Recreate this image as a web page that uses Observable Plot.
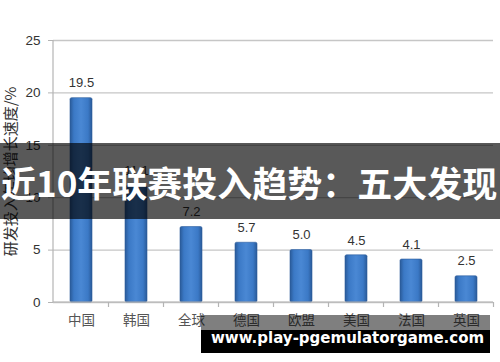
<!DOCTYPE html>
<html>
<head>
<meta charset="utf-8">
<script src="https://cdn.jsdelivr.net/npm/d3@7"></script>
<script src="https://cdn.jsdelivr.net/npm/@observablehq/plot@0.6"></script>
<style>
  body { margin: 0; background: #fff; }
  #wrap { position: relative; width: 500px; height: 362px; overflow: hidden; background: #fff; }
  #banner {
    position: absolute; left: 0; top: 143px; width: 500px; height: 76px;
    background: rgba(0, 0, 0, 0.65); color: #fff;
    font-family: "Noto Sans CJK SC", sans-serif; font-weight: 700; font-size: 35px;
    line-height: 78px; padding-left: 1px; white-space: nowrap; box-sizing: border-box;
  }
  #site {
    position: absolute; left: 201px; top: 315px; width: 289px; height: 38px;
    background: linear-gradient(to bottom, rgba(0,0,0,0.5) 0, rgba(0,0,0,0.5) 15px, #000 15px);
  }
  #site span {
    position: absolute; left: 10px; top: 16px; line-height: 15px;
    font-family: "DejaVu Sans", sans-serif; font-weight: 700; font-size: 15px; color: #fff; white-space: nowrap;
  }
</style>
</head>
<body>
<div id="wrap">
  <div id="chart"></div>
  <div id="banner">近10年联赛投入趋势：五大发现</div>
  <div id="site"><span>www.play-pgemulatorgame.com</span></div>
</div>
<script>
// Average annual growth of R&D investment, by country / region (%)
const categories = ["中国", "韩国", "全球", "德国", "欧盟", "美国", "法国", "英国"];
const growth = [19.5, 11.1, 7.2, 5.7, 5.0, 4.5, 4.1, 2.5];
const yTicks = [0, 5, 10, 15, 20, 25];
const yTitle = "研发投入年均增长速度/%";

const rows = categories.map((country, i) => ({country, value: growth[i]}));

// Axis lines plus category-boundary ticks along the baseline
function axisLines(index, scales, values, dimensions) {
  const {x, y} = scales;
  const {marginLeft, marginRight, width} = dimensions;
  const step = x(categories[1]) - x(categories[0]);
  const bw = typeof x.bandwidth === "function" ? x.bandwidth() : step * 0.4;
  const y0 = y(yTicks[0]);
  const g = d3.create("svg:g").attr("stroke", "#b4b4b4").attr("stroke-width", 1.2).attr("fill", "none");
  g.append("line")
    .attr("x1", marginLeft).attr("x2", marginLeft)
    .attr("y1", y0).attr("y2", y(yTicks[yTicks.length - 1]));
  g.append("line")
    .attr("x1", marginLeft).attr("x2", width - marginRight)
    .attr("y1", y0).attr("y2", y0);
  categories.forEach(c => {
    const bx = x(c) + bw / 2 + step / 2;
    g.append("line").attr("x1", bx).attr("x2", bx).attr("y1", y0).attr("y2", y0 + 5);
  });
  return g.node();
}

const chart = Plot.plot({
  width: 500,
  height: 362,
  marginLeft: 53,
  marginRight: 7,
  marginTop: 40,
  marginBottom: 60,
  style: {
    fontFamily: "'Liberation Sans', 'Noto Sans CJK SC', sans-serif",
    fontSize: "13px",
    background: "transparent",
    overflow: "visible"
  },
  x: {domain: categories, paddingInner: 0.6, paddingOuter: 0.3},
  y: {domain: [0, 25]},
  marks: [
    Plot.gridY(yTicks, {stroke: "#c6c6c6", strokeOpacity: 1, strokeWidth: 1.3}),
    Plot.barY(rows, {x: "country", y: "value", fill: "url(#barFill)", stroke: "#2c5d9c", strokeWidth: 0.6, rx: 1.5}),
    Plot.text(rows, {x: "country", y: "value", text: d => d.value.toFixed(1), dy: -15, fill: "#333"}),
    Plot.axisY(yTicks, {
      tickSize: 5, tickPadding: 8, stroke: "#b4b4b4", fill: "#333", fontSize: 13.5,
      label: yTitle, labelAnchor: "center", labelOffset: 48, labelArrow: "none"
    }),
    Plot.axisX({tickSize: 0, tickPadding: 13, fill: "#555", fontSize: 13.5, label: null,
      fontFamily: "'Noto Sans CJK SC', sans-serif"}),
    axisLines
  ]
});

// The axis title is set a little larger than the tick labels
d3.select(chart).selectAll('g[aria-label="y-axis label"]')
  .attr("font-size", 15)
  .attr("font-family", "'Noto Sans CJK SC', sans-serif");

// Horizontal shading for the bars
const defs = d3.select(chart).insert("defs", ":first-child");
const grad = defs.append("linearGradient").attr("id", "barFill").attr("x1", "0").attr("x2", "1").attr("y1", "0").attr("y2", "0");
[["0%", "#2a5a98"], ["18%", "#3b79c6"], ["50%", "#4a88d4"], ["82%", "#3b79c6"], ["100%", "#2a5a98"]]
  .forEach(([o, c]) => grad.append("stop").attr("offset", o).attr("stop-color", c));

document.getElementById("chart").appendChild(chart);
</script>
</body>
</html>
